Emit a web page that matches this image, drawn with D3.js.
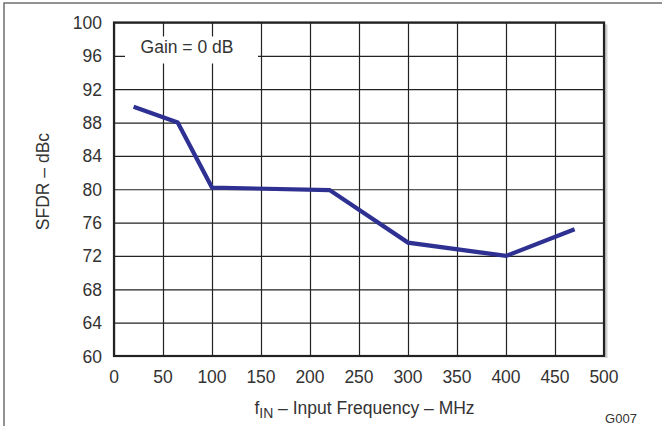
<!DOCTYPE html>
<html>
<head>
<meta charset="utf-8">
<script src="https://cdn.jsdelivr.net/npm/d3@7"></script>
<style>
  body { margin: 0; background: #fff; }
  text { font-family: "Liberation Sans", Arial, sans-serif; fill: #333; }
</style>
</head>
<body>
<div id="chart"></div>
<script>
// data
const freqMHz = [20, 65, 100, 220, 300, 400, 470];
const sfdrDbc = [89.9, 88.0, 80.2, 79.9, 73.6, 72.0, 75.2];
const xTicks = [0, 50, 100, 150, 200, 250, 300, 350, 400, 450, 500];
const yTicks = [60, 64, 68, 72, 76, 80, 84, 88, 92, 96, 100];

const W = 662, H = 426;
const margin = {top: 22.5, right: 58, bottom: 70, left: 114};
const width = W - margin.left - margin.right,
      height = H - margin.top - margin.bottom;

const svg = d3.select("#chart").append("svg")
  .attr("width", W)
  .attr("height", H);

// outer frame (runs off the right and bottom edges)
svg.append("rect")
  .attr("x", 4).attr("y", 3)
  .attr("width", 800).attr("height", 600)
  .attr("fill", "none")
  .attr("stroke", "#6f6f6f")
  .attr("stroke-width", 1.5);

const g = svg.append("g")
  .attr("transform", `translate(${margin.left},${margin.top})`);

const x = d3.scaleLinear().domain([0, 500]).range([0, width]);
const y = d3.scaleLinear().domain([60, 100]).range([height, 0]);

// shadow on right of plot box
g.append("rect")
  .attr("x", width + 1).attr("y", 2)
  .attr("width", 2.5).attr("height", height)
  .attr("fill", "#d0d0d0");

// grid
g.append("g")
  .attr("transform", `translate(0,${height})`)
  .call(d3.axisBottom(x).tickValues(xTicks).tickSize(-height).tickFormat(""))
  .call(a => a.select(".domain").remove())
  .selectAll("line").attr("stroke", "#222").attr("stroke-width", 1.2);

g.append("g")
  .call(d3.axisLeft(y).tickValues(yTicks).tickSize(-width).tickFormat(""))
  .call(a => a.select(".domain").remove())
  .selectAll("line").attr("stroke", "#222").attr("stroke-width", 1.2);

// tick labels
g.selectAll(".xlab")
  .data(xTicks)
  .enter().append("text")
  .attr("x", d => x(d))
  .attr("y", height + 26.5)
  .attr("text-anchor", "middle")
  .style("font-size", "17.5px")
  .text(d => d);

g.selectAll(".ylab")
  .data(yTicks)
  .enter().append("text")
  .attr("x", -12)
  .attr("y", d => y(d) + 6.5)
  .attr("text-anchor", "end")
  .style("font-size", "17.5px")
  .text(d => d);

// label box
g.append("rect")
  .attr("x", 11).attr("y", 14)
  .attr("width", 133).attr("height", 27)
  .attr("fill", "#fff");

g.append("text")
  .attr("x", 73).attr("y", 30.5)
  .attr("text-anchor", "middle")
  .style("font-size", "17.5px")
  .text("Gain = 0 dB");

// plot border
g.append("rect")
  .attr("width", width).attr("height", height)
  .attr("fill", "none")
  .attr("stroke", "#222")
  .attr("stroke-width", 2.2);

// the curve
const line = d3.line()
  .x((d, i) => x(freqMHz[i]))
  .y(d => y(d));

g.append("path")
  .datum(sfdrDbc)
  .attr("d", line)
  .attr("fill", "none")
  .attr("stroke", "#2e3192")
  .attr("stroke-width", 4.2)
  .attr("stroke-linejoin", "miter");

// axis titles
const xt = svg.append("text")
  .attr("x", 364.5)
  .attr("y", 414)
  .attr("text-anchor", "middle")
  .style("font-size", "17.5px");
xt.append("tspan").text("f");
xt.append("tspan").attr("dy", 4).style("font-size", "14px").text("IN");
xt.append("tspan").attr("dy", -4).text(" \u2013 Input Frequency \u2013 MHz");

svg.append("text")
  .attr("transform", "translate(49,181.5) rotate(-90)")
  .attr("text-anchor", "middle")
  .style("font-size", "17.5px")
  .text("SFDR \u2013 dBc");

svg.append("text")
  .attr("x", 621)
  .attr("y", 423)
  .attr("text-anchor", "middle")
  .style("font-size", "13px")
  .text("G007");
</script>
</body>
</html>
